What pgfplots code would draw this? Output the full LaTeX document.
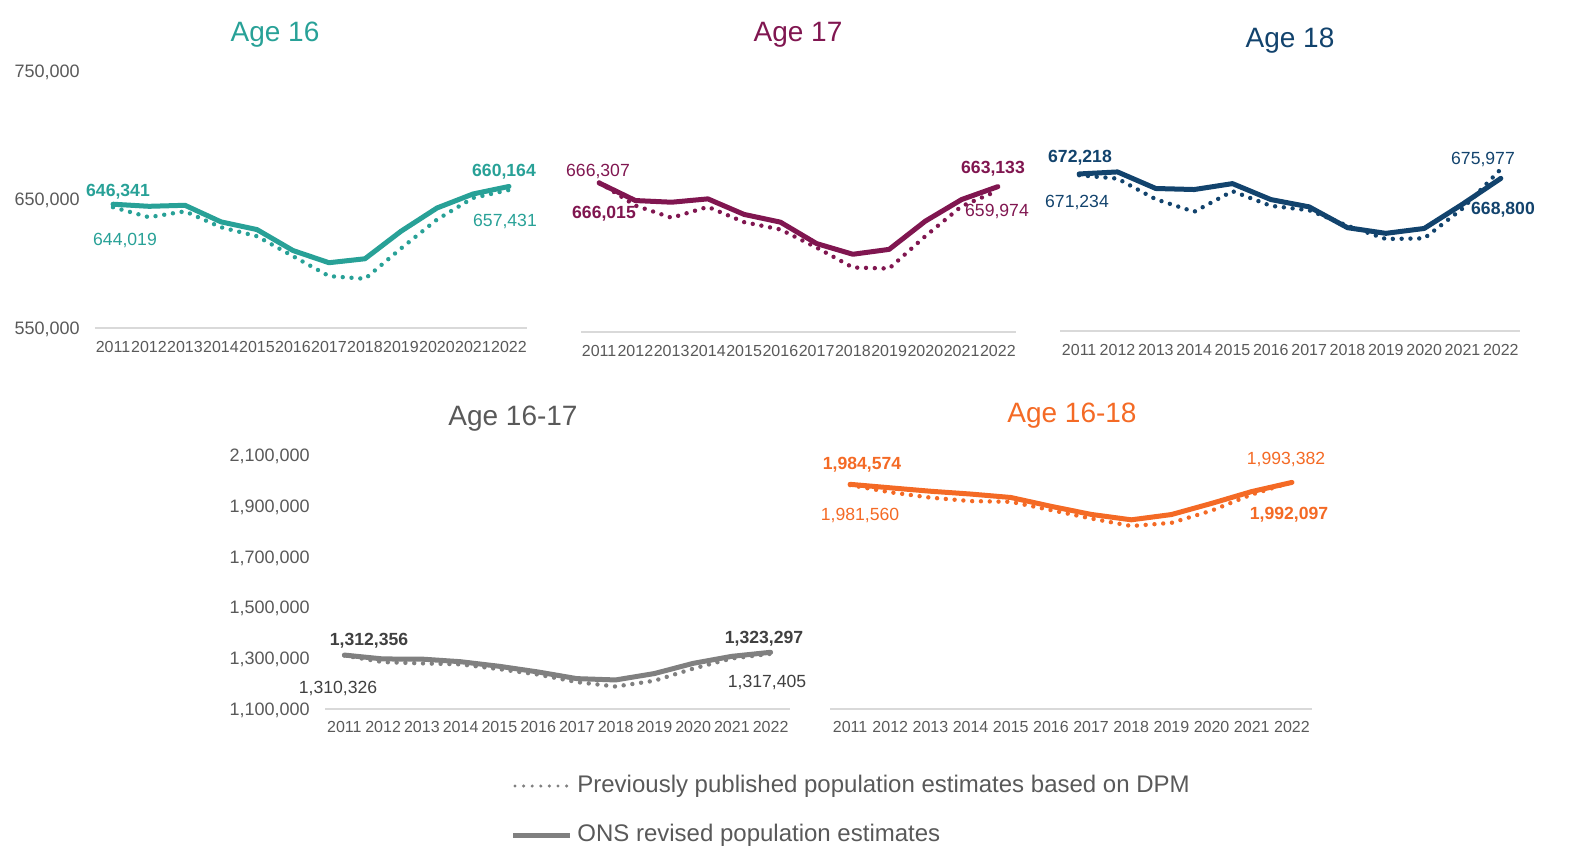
\documentclass[border=0pt]{standalone}
\usepackage{pgfplots}
\pgfplotsset{compat=1.18}
\usepackage{fontspec}
\setmainfont{Liberation Sans}
\definecolor{cteal}{HTML}{28A197}
\definecolor{cmaroon}{HTML}{801650}
\definecolor{cnavy}{HTML}{12436D}
\definecolor{cgrey}{HTML}{808080}
\definecolor{corange}{HTML}{F46A25}
\definecolor{ticktext}{HTML}{595959}
\definecolor{axisgrey}{HTML}{D9D9D9}
\definecolor{labgrey}{HTML}{404040}

\pgfplotsset{
  panel/.style={
    scale only axis, anchor=south west, clip=false,
    xmin=-0.5, xmax=11.5, scaled y ticks=false,
    axis x line*=bottom, axis y line*=left,
    x axis line style={draw=axisgrey, line width=1pt, -},
    y axis line style={draw=none},
    major tick length=0pt,
    xtick={0,...,11},
    xticklabels={2011,2012,2013,2014,2015,2016,2017,2018,2019,2020,2021,2022},
    xticklabel style={font=\fontsize{8}{9}\selectfont, text=ticktext, inner sep=0pt, anchor=base, yshift=-12.2pt},
    yticklabel style={font=\fontsize{9}{10}\selectfont, text=ticktext, inner sep=0pt, anchor=base east, xshift=-7.5pt, yshift=-3.2pt},
  },
  rev/.style={line width=2.5pt, line join=round, line cap=round, mark=none},
  prev/.style={line width=2.2pt, line cap=round, dash pattern=on 0pt off 4.4pt, mark=none},
}
\newcommand\lab{\fontsize{8.8}{10}\selectfont}
\newcommand\ttl{\fontsize{14}{16}\selectfont}

\begin{document}
\begin{tikzpicture}
\path[use as bounding box] (0,0) rectangle (788pt,-434pt);

% ---------- Age 16 ----------
\begin{axis}[panel, at={(47.5pt,-164pt)}, width=216pt, height=128.5pt,
  ymin=550000, ymax=750000, ytick={550000,650000,750000},
  yticklabels={{550,000},{650,000},{750,000}}]
\addplot[rev, cteal] coordinates {(0,646341)(1,644700)(2,645500)(3,632600)(4,626600)(5,610300)(6,600800)(7,603900)(8,625300)(9,643400)(10,654300)(11,660164)};
\addplot[prev, cteal] coordinates {(0,644019)(1,636200)(2,640800)(3,628400)(4,621400)(5,605900)(6,590400)(7,588300)(8,611900)(9,634400)(10,651200)(11,657431)};
\end{axis}

% ---------- Age 17 ----------
\begin{axis}[panel, at={(290.5pt,-166pt)}, width=217.5pt, height=128.5pt,
  ymin=550000, ymax=750000, ytick=\empty]
\addplot[rev, cmaroon] coordinates {(0,666015)(1,652300)(2,651000)(3,653600)(4,641500)(5,635500)(6,618800)(7,610500)(8,614300)(9,636300)(10,653100)(11,663133)};
\addplot[prev, cmaroon] coordinates {(0,666307)(1,648400)(2,638900)(3,647400)(4,635500)(5,629800)(6,615700)(7,600200)(8,599400)(9,624600)(10,647900)(11,659974)};
\end{axis}

% ---------- Age 18 ----------
\begin{axis}[panel, at={(530pt,-165.5pt)}, width=230pt, height=128.5pt,
  ymin=550000, ymax=750000, ytick=\empty]
\addplot[rev, cnavy] coordinates {(0,672218)(1,673800)(2,660900)(3,660100)(4,664700)(5,652300)(6,646600)(7,630400)(8,626000)(9,629800)(10,648700)(11,668800)};
\addplot[prev, cnavy] coordinates {(0,671234)(1,668600)(2,652500)(3,642800)(4,658800)(5,647400)(6,644000)(7,631900)(8,621600)(9,622100)(10,645300)(11,675977)};
\end{axis}

% ---------- Age 16-17 ----------
\begin{axis}[panel, at={(162.5pt,-354.5pt)}, width=232.5pt, height=127pt,
  ymin=1100000, ymax=2100000, ytick={1100000,1300000,1500000,1700000,1900000,2100000},
  yticklabels={{1,100,000},{1,300,000},{1,500,000},{1,700,000},{1,900,000},{2,100,000}},
  xticklabel style={yshift=0.4pt}]
\addplot[rev, cgrey] coordinates {(0,1312356)(1,1297000)(2,1296500)(3,1286200)(4,1268100)(5,1245800)(6,1219600)(7,1214400)(8,1239600)(9,1279700)(10,1307400)(11,1323297)};
\addplot[prev, cgrey] coordinates {(0,1310326)(1,1284600)(2,1279700)(3,1275800)(4,1256900)(5,1235700)(6,1206100)(7,1188500)(8,1211300)(9,1259000)(10,1299100)(11,1317405)};
\end{axis}

% ---------- Age 16-18 ----------
\begin{axis}[panel, at={(415pt,-354.5pt)}, width=241pt, height=127pt,
  ymin=1100000, ymax=2100000, ytick=\empty, xticklabel style={yshift=0.4pt}]
\addplot[rev, corange] coordinates {(0,1984574)(1,1970800)(2,1957400)(3,1946300)(4,1932800)(5,1898100)(6,1866200)(7,1844800)(8,1865600)(9,1909500)(10,1956100)(11,1992097)};
\addplot[prev, corange] coordinates {(0,1981560)(1,1953200)(2,1932200)(3,1918600)(4,1915700)(5,1883100)(6,1850100)(7,1820400)(8,1832900)(9,1881100)(10,1944400)(11,1993382)};
\end{axis}

\begin{scope}[x=0.5pt, y=-0.5pt]
% titles
\node[text=cteal, font=\ttl] at (275,35) {Age 16};
\node[text=cmaroon, font=\ttl] at (798,35) {Age 17};
\node[text=cnavy, font=\ttl] at (1290,41) {Age 18};
\node[text=ticktext, font=\ttl] at (513,419) {Age 16-17};
\node[text=corange, font=\ttl] at (1072,416) {Age 16-18};
% data labels Age 16
\node[text=cteal, font=\lab\bfseries] at (118,192) {646,341};
\node[text=cteal, font=\lab] at (125,240) {644,019};
\node[text=cteal, font=\lab\bfseries] at (504,172) {660,164};
\node[text=cteal, font=\lab] at (505,221) {657,431};
% Age 17
\node[text=cmaroon, font=\lab] at (598,171) {666,307};
\node[text=cmaroon, font=\lab\bfseries] at (604,214) {666,015};
\node[text=cmaroon, font=\lab\bfseries] at (993,169) {663,133};
\node[text=cmaroon, font=\lab] at (997,211) {659,974};
% Age 18
\node[text=cnavy, font=\lab\bfseries] at (1080,158) {672,218};
\node[text=cnavy, font=\lab] at (1077,202) {671,234};
\node[text=cnavy, font=\lab] at (1483,159) {675,977};
\node[text=cnavy, font=\lab\bfseries] at (1503,210) {668,800};
% Age 16-17
\node[text=labgrey, font=\lab\bfseries] at (369,641) {1,312,356};
\node[text=labgrey, font=\lab] at (338,688) {1,310,326};
\node[text=labgrey, font=\lab\bfseries] at (764,639) {1,323,297};
\node[text=labgrey, font=\lab] at (767,682) {1,317,405};
% Age 16-18
\node[text=corange, font=\lab\bfseries] at (862,465) {1,984,574};
\node[text=corange, font=\lab] at (860,515) {1,981,560};
\node[text=corange, font=\lab] at (1286,459) {1,993,382};
\node[text=corange, font=\lab\bfseries] at (1289,515) {1,992,097};
% legend
\draw[cgrey, line width=1.7pt, line cap=round, dash pattern=on 0pt off 4.3pt] (515,786) -- (568,786);
\node[anchor=west, text=ticktext, font=\fontsize{12}{14}\selectfont, inner sep=0pt] at (577,786) {Previously published population estimates based on DPM};
\draw[cgrey, line width=2.5pt] (513,835) -- (570,835);
\node[anchor=west, text=ticktext, font=\fontsize{12}{14}\selectfont, inner sep=0pt] at (577,835) {ONS revised population estimates};
\end{scope}
\end{tikzpicture}
\end{document}
